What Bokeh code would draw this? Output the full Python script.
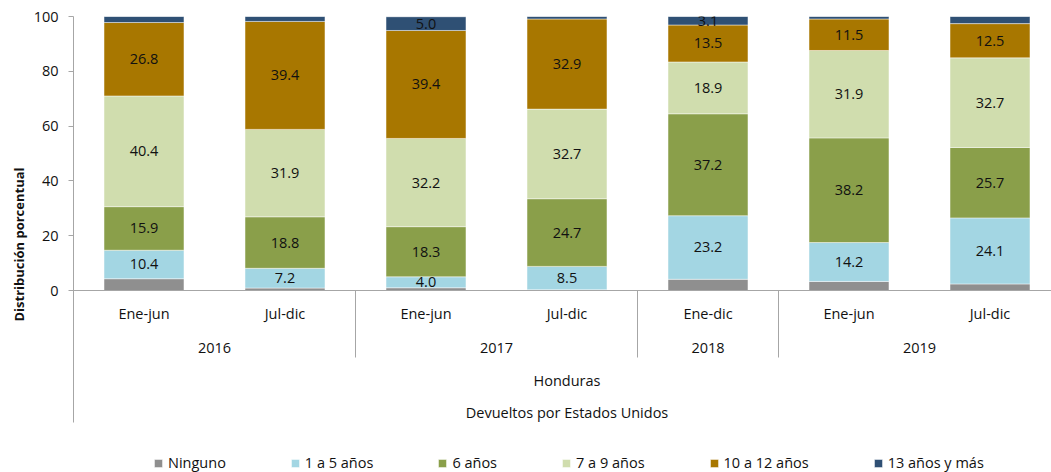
import numpy as np
from bokeh.plotting import figure
from bokeh.models import (Range1d, FixedTicker, Span, Title, Legend, LegendItem,
                          ColumnDataSource)
from bokeh.core.properties import value
from bokeh.embed import file_html
from bokeh.resources import INLINE

# ---------------- data ----------------
periods = ["Ene-jun", "Jul-dic", "Ene-jun", "Jul-dic", "Ene-dic", "Ene-jun", "Jul-dic"]
years = ["2016", "2016", "2017", "2017", "2018", "2019", "2019"]
country = "Honduras"
group_label = "Devueltos por Estados Unidos"
y_title = "Distribución porcentual"

series = ["Ninguno", "1 a 5 años", "6 años", "7 a 9 años", "10 a 12 años", "13 años y más"]
ninguno = [4.3, 0.9, 1.0, 0.3, 4.1, 3.3, 2.4]
anos_1_5 = [10.4, 7.2, 4.0, 8.5, 23.2, 14.2, 24.1]
anos_6 = [15.9, 18.8, 18.3, 24.7, 37.2, 38.2, 25.7]
anos_7_9 = [40.4, 31.9, 32.2, 32.7, 18.9, 31.9, 32.7]
anos_10_12 = [26.8, 39.4, 39.4, 32.9, 13.5, 11.5, 12.5]
anos_13 = [2.2, 1.8, 5.0, 0.9, 3.1, 0.9, 2.6]
y_ticks = [0, 20, 40, 60, 80, 100]

colors = ["#8F8F8F", "#A3D6E3", "#8A9F4A", "#D0DDAE", "#A87700", "#2F5074"]

# ---------------- layout constants ----------------
FONT = "Open Sans"
FS = "14.5px"
W, H = 1051, 472
LEFT = 73
TOP = 16
PX_CAT = 141.0
PX_UNIT = 2.74
ZERO_PX = 290
frame_w = W - LEFT
frame_h = H - TOP
x_end = frame_w / PX_CAT
y_start = 100 - frame_h / PX_UNIT

values = [ninguno, anos_1_5, anos_6, anos_7_9, anos_10_12, anos_13]
n = len(periods)
xs = [i + 0.5 for i in range(n)]

data = {"x": xs}
for name, vals in zip(series, values):
    data[name] = vals
source = ColumnDataSource(data)

p = figure(width=W, height=H, output_backend="svg", toolbar_location=None,
           x_range=Range1d(0, x_end), y_range=Range1d(y_start, 100),
           x_axis_location=None, min_border_left=LEFT, min_border_top=TOP,
           min_border_bottom=0, min_border_right=0, outline_line_color=None,
           background_fill_color="white", border_fill_color="white")
p.xgrid.visible = False
p.ygrid.visible = False

renderers = p.vbar_stack(series, x="x", width=0.567, color=colors, source=source,
                         line_color="white", line_alpha=0.45, line_width=1)

# value labels
arr = np.array(values)
tops = np.cumsum(arr, axis=0)
mids = tops - arr / 2
lx, ly, lt = [], [], []
for si in range(1, len(series)):
    for ci in range(n):
        v = arr[si, ci]
        if v >= 3:
            lx.append(xs[ci])
            ly.append(mids[si, ci])
            lt.append(f"{v:.1f}")
p.text(x=lx, y=ly, text=lt, text_align="center", text_baseline="middle",
       text_font=value(FONT), text_font_size=FS, text_color="#111111")

# x axis line
p.add_layout(Span(location=0, dimension="width", line_color="#A6A6A6", line_width=1))

# category labels (multi-level)
def data_y(px):
    return -(px - ZERO_PX) / PX_UNIT

y_per = data_y(313)
y_year = data_y(347)
y_country = data_y(380)
y_group = data_y(412)
y_sep = data_y(357)
y_axis_bottom = data_y(422)

p.text(x=xs, y=[y_per] * n, text=periods, text_align="center", text_baseline="middle",
       text_font=value(FONT), text_font_size=FS, text_color="#111111")

yr_names, yr_centers, bounds = [], [], []
start = 0
for i in range(1, n + 1):
    if i == n or years[i] != years[start]:
        yr_names.append(years[start])
        yr_centers.append((start + i) / 2)
        if i < n:
            bounds.append(i)
        start = i
p.text(x=yr_centers, y=[y_year] * len(yr_centers), text=yr_names, text_align="center",
       text_baseline="middle", text_font=value(FONT), text_font_size=FS,
       text_color="#111111")
p.segment(x0=bounds, y0=[0] * len(bounds), x1=bounds, y1=[y_sep] * len(bounds),
          line_color="#A6A6A6", line_width=1)

p.text(x=[n / 2], y=[y_country], text=[country], text_align="center", text_baseline="middle",
       text_font=value(FONT), text_font_size=FS, text_color="#111111")
p.text(x=[n / 2], y=[y_group], text=[group_label], text_align="center", text_baseline="middle",
       text_font=value(FONT), text_font_size=FS, text_color="#111111")

# y axis
ax = p.yaxis[0]
ax.ticker = FixedTicker(ticks=y_ticks)
ax.bounds = (y_axis_bottom, 100)
ax.axis_line_color = "#A6A6A6"
ax.major_tick_line_color = "#A6A6A6"
ax.major_tick_out = 5
ax.major_tick_in = 0
ax.minor_tick_out = 0
ax.minor_tick_in = 0
ax.major_label_standoff = 10
ax.major_label_text_font = FONT
ax.major_label_text_font_size = FS
ax.major_label_text_color = "#111111"

# y-axis title, centred on the 0-100 span
frame_center = TOP + frame_h / 2
title_center = (ZERO_PX + (ZERO_PX - 100 * PX_UNIT)) / 2
ytitle = Title(text=y_title, align="center", offset=frame_center - title_center,
               text_font=FONT, text_font_size="13px", text_font_style="bold",
               text_color="#111111", standoff=5)
p.add_layout(ytitle, "left")

legend = Legend(items=[LegendItem(label=s, renderers=[r]) for s, r in zip(series, renderers)],
                orientation="horizontal", location=(80, 0), glyph_width=10, glyph_height=10,
                label_standoff=5, spacing=64, padding=0, margin=0, border_line_color=None,
                background_fill_alpha=0, label_text_font=FONT, label_text_font_size=FS,
                label_text_color="#111111", label_height=16)
p.add_layout(legend)

open("out.html", "w").write(file_html(p, INLINE))
